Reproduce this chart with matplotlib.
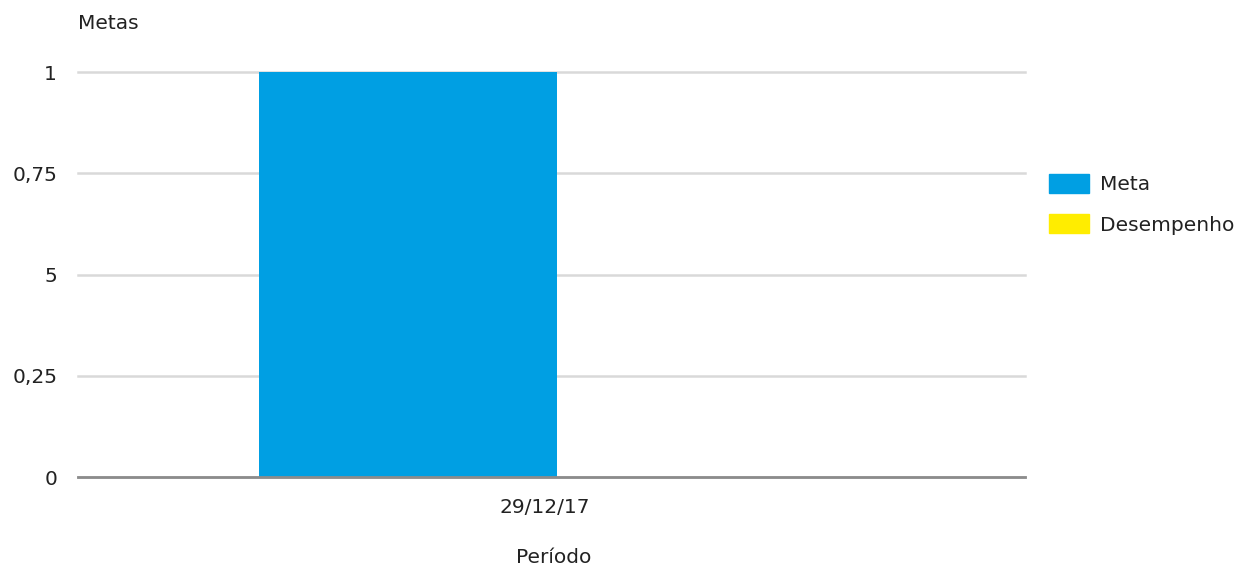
import matplotlib.pyplot as plt
from matplotlib.patches import Patch

plt.rcParams['font.family'] = ['DejaVu Sans']

# data
categories = ['29/12/17']
meta = [1.0]
desempenho = [0.0]
y_ticks = [0, 0.25, 0.5, 0.75, 1]
y_tick_labels = ['0', '0,25', '5', '0,75', '1']

blue = '#009fe3'
yellow = '#ffed00'
txt = '#222222'
fs = 14.5

fig = plt.figure(figsize=(12.52, 5.67), dpi=100)
ax = fig.add_axes([0.0623, 0.1587, 0.7564, 0.7143])

w = 0.3
x = list(range(len(categories)))
ax.bar([i - w / 2 for i in x], meta, width=w, color=blue, zorder=2)
ax.bar([i + w / 2 for i in x], desempenho, width=w, color=yellow, zorder=2)

ax.set_xlim(-0.483, 0.472)
ax.set_ylim(0, 1)
ax.set_yticks(y_ticks)
ax.set_yticklabels(y_tick_labels)
ax.set_xticks([i - 0.012 for i in x])
ax.set_xticklabels(categories)
ax.tick_params(axis='both', length=0, labelsize=fs, colors=txt)
ax.tick_params(axis='y', pad=15)
ax.tick_params(axis='x', pad=15)

ax.grid(axis='y', color='#d9d9d9', linewidth=1.8, zorder=0)
for gl in ax.get_ygridlines():
    gl.set_clip_on(False)
for s in ['top', 'right', 'left']:
    ax.spines[s].set_visible(False)
ax.spines['bottom'].set_color('#8c8c8c')
ax.spines['bottom'].set_linewidth(2)
ax.spines['bottom'].set_zorder(3)

fig.text(0.0623, 0.958, 'Metas', fontsize=fs, color=txt, va='center', ha='left')
fig.text(0.442, 0.017, 'Período', fontsize=fs, color=txt, va='center', ha='center')

handles = [Patch(color=blue, label='Meta'), Patch(color=yellow, label='Desempenho')]
fig.legend(handles=handles, loc='upper left', bbox_to_anchor=(0.823, 0.725),
           frameon=False, fontsize=fs, handlelength=2.0, handleheight=1.05,
           labelspacing=1.0, handletextpad=0.55, labelcolor=txt)

fig.savefig('out.png', dpi=100)
